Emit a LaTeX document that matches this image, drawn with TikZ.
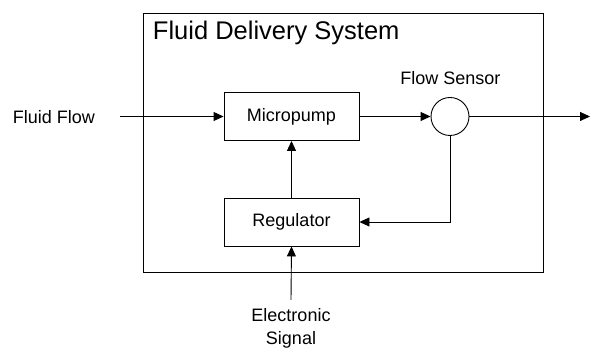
\documentclass[tikz,border=0pt]{standalone}
\usepackage{fontspec}
\setmainfont{Liberation Sans}
\usetikzlibrary{arrows.meta}
\begin{document}
\begin{tikzpicture}[x=1pt,y=1pt,
  line width=0.9pt,
  lbl/.style={font=\fontsize{18}{23}\selectfont, inner sep=0pt},
  blk/.style={draw, rectangle, minimum width=135pt, minimum height=48pt, inner sep=0pt, font=\fontsize{18}{23}\selectfont},
  arr/.style={-{Triangle[length=10pt,width=9pt]}}
]
\useasboundingbox (0,0) rectangle (590,350);
% outer system frame
\node[draw, rectangle, minimum width=400pt, minimum height=258.5pt, inner sep=0pt] (sys) at (343.5,207.25) {};
\node[anchor=base west, inner sep=0pt, font=\fontsize{25.5}{30}\selectfont] (title) at (152.5,310.5) {Fluid Delivery System};
% blocks
\node[blk] (mp) at (291.5,233.5) {Micropump};
\node[blk] (reg) at (291.5,128) {Regulator};
\node[draw, circle, minimum size=38pt, inner sep=0pt] (fs) at (450,233.5) {};
\node[lbl] (fsl) at (450.5,272) {Flow Sensor};
% labels
\node[lbl] (ff) at (54,232.5) {Fluid Flow};
\node[lbl, align=center] (es) at (291,22) {Electronic\\Signal};
\coordinate (in) at (120,233.5);
\coordinate (out) at (590,233.5);
\coordinate (esin) at (291,50);
% connectors
\draw[arr] (in) -- (mp.west);
\draw[arr] (mp.east) -- (fs.west);
\draw[arr] (fs.east) -- (out);
\draw[arr] (fs.south) |- (reg.east);
\draw[arr] (reg.north) -- (mp.south);
\draw[arr] (esin) -- (reg.south);
\end{tikzpicture}
\end{document}
